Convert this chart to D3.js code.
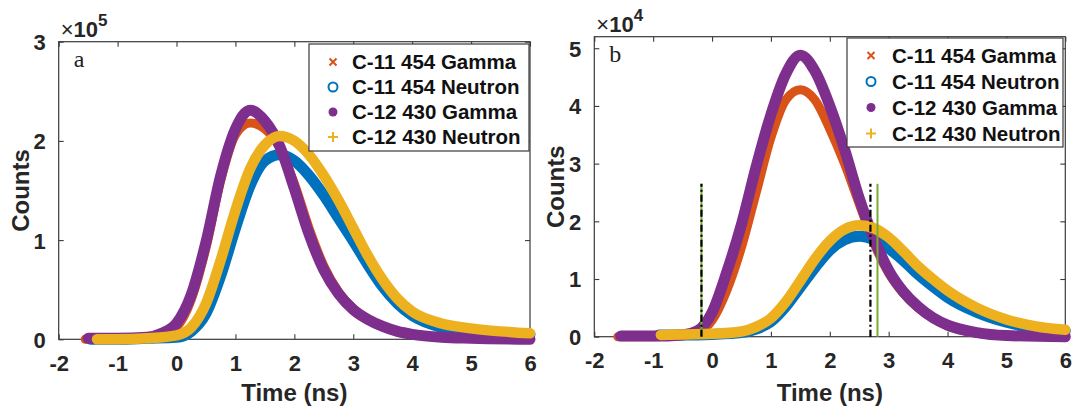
<!DOCTYPE html>
<html>
<head>
<meta charset="utf-8">
<script src="https://cdn.jsdelivr.net/npm/d3@7"></script>
<style>
  html, body { margin: 0; padding: 0; background: #fff; }
  svg { display: block; }
</style>
</head>
<body>
<svg id="chart" width="1073" height="407"></svg>
<script>
// ---------------- DATA ----------------
const seriesNames = ["C-11 454 Gamma", "C-11 454 Neutron", "C-12 430 Gamma", "C-12 430 Neutron"];
const xTicks = [-2, -1, 0, 1, 2, 3, 4, 5, 6];
const yTicksA = [0, 1, 2, 3];          // x10^5
const yTicksB = [0, 1, 2, 3, 4, 5];    // x10^4
const panelLetters = ["a", "b"];
const exponents = [5, 4];

// Panel a (counts / 1e5)
const tA_C11G = [-1.55,-1,-0.5,-0.25,0,0.25,0.5,0.75,1,1.25,1.5,1.75,2,2.25,2.5,2.75,3,3.25,3.5,3.75,4,4.5,5,6];
const vA_C11G = [0,0,0.01,0.04,0.12,0.4,0.92,1.6,2.06,2.18,2.12,1.93,1.57,1.12,0.74,0.48,0.31,0.2,0.13,0.08,0.05,0.02,0.01,0];
const tA_C11N = [-1.45,-1,-0.5,0,0.25,0.5,0.75,1,1.25,1.5,1.75,2,2.25,2.5,2.75,3,3.25,3.5,3.75,4,4.5,5,5.5,6];
const vA_C11N = [0,0,0.01,0.02,0.08,0.26,0.64,1.12,1.55,1.8,1.86,1.8,1.65,1.45,1.22,0.99,0.75,0.53,0.36,0.24,0.12,0.08,0.06,0.05];
const tA_C12G = [-1.5,-1,-0.5,-0.25,0,0.25,0.5,0.75,1,1.25,1.5,1.75,2,2.25,2.5,2.75,3,3.25,3.5,3.75,4,4.5,5,6];
const vA_C12G = [0.01,0.01,0.02,0.06,0.16,0.45,0.98,1.65,2.12,2.31,2.2,1.95,1.52,1.06,0.7,0.46,0.3,0.2,0.13,0.08,0.05,0.02,0.01,0];
const tA_C12N = [-1.35,-1,-0.5,0,0.25,0.5,0.75,1,1.25,1.5,1.75,2,2.25,2.5,2.75,3,3.25,3.5,3.75,4,4.5,5,5.5,6];
const vA_C12N = [0,0,0.01,0.04,0.12,0.36,0.8,1.3,1.72,1.96,2.05,2.0,1.86,1.65,1.4,1.12,0.84,0.6,0.41,0.28,0.16,0.11,0.08,0.06];

// Panel b (counts / 1e4)
const tB_C11G = [-1.6,-1,-0.5,-0.25,0,0.25,0.5,0.75,1,1.25,1.5,1.75,2,2.25,2.5,2.75,3,3.25,3.5,3.75,4,4.5,5,6];
const vB_C11G = [0,0,0.02,0.06,0.28,0.8,1.55,2.5,3.45,4.1,4.28,4.1,3.6,3.0,2.3,1.62,1.1,0.75,0.5,0.32,0.19,0.06,0.02,0];
const tB_C11N = [-0.9,-0.5,0,0.5,0.75,1,1.25,1.5,1.75,2,2.25,2.5,2.75,3,3.25,3.5,3.75,4,4.5,5,5.5,6];
const vB_C11N = [0.03,0.03,0.04,0.07,0.13,0.26,0.52,0.86,1.2,1.5,1.68,1.74,1.68,1.53,1.32,1.08,0.87,0.68,0.42,0.25,0.15,0.1];
const tB_C12G = [-1.55,-1,-0.5,-0.25,0,0.25,0.5,0.75,1,1.25,1.5,1.75,2,2.25,2.5,2.75,3,3.25,3.5,3.75,4,4.5,5,6];
const vB_C12G = [0.01,0.01,0.03,0.1,0.42,1.12,1.95,2.95,3.85,4.55,4.88,4.6,4.0,3.25,2.4,1.7,1.15,0.78,0.52,0.33,0.2,0.07,0.02,0];
const tB_C12N = [-0.87,-0.5,0,0.5,0.75,1,1.25,1.5,1.75,2,2.25,2.5,2.75,3,3.25,3.5,3.75,4,4.5,5,5.5,6];
const vB_C12N = [0.03,0.04,0.05,0.09,0.17,0.32,0.6,0.97,1.35,1.66,1.86,1.93,1.88,1.72,1.48,1.22,1.0,0.8,0.5,0.3,0.18,0.12];

// Vertical marker lines in panel b (time ns, top value x1e4)
const blackLinesB = [-0.18, 2.69];
const greenLinesB = [-0.18, 2.81];
const markerLineTopB = 2.65;

// ---------------- STYLE ----------------
const colors = ["#D95319", "#0072BD", "#7E2F8E", "#EDB120"];
const bandWidths = [9, 11, 11, 10.5];
const axisColor = "#3a3a3a";
const sans = "'Liberation Sans', Arial, Helvetica, sans-serif";
const serif = "'Liberation Serif', 'Times New Roman', serif";

const svg = d3.select("#chart");

const panels = [
  {
    left: 58.7, right: 530, top: 41.7, bottom: 339.3, yMax: 3, yTicks: yTicksA,
    series: [[tA_C11G, vA_C11G], [tA_C11N, vA_C11N], [tA_C12G, vA_C12G], [tA_C12N, vA_C12N]],
    legend: { x: 309, y: 44, w: 220, h: 107, mx: 333, tx: 352, row0: 62, dy: 25 },
    ylabX: 21, letter: panelLetters[0], exp: exponents[0]
  },
  {
    left: 594.3, right: 1065.3, top: 36.7, bottom: 336.7, yMax: 5.2, yTicks: yTicksB,
    series: [[tB_C11G, vB_C11G], [tB_C11N, vB_C11N], [tB_C12G, vB_C12G], [tB_C12N, vB_C12N]],
    legend: { x: 847, y: 38, w: 216, h: 109, mx: 871, tx: 892, row0: 55.5, dy: 26 },
    ylabX: 556, letter: panelLetters[1], exp: exponents[1],
    vlines: true
  }
];

panels.forEach(p => {
  const x = d3.scaleLinear().domain([-2, 6]).range([p.left, p.right]);
  const y = d3.scaleLinear().domain([0, p.yMax]).range([p.bottom, p.top]);
  const g = svg.append("g");

  // box
  g.append("rect")
    .attr("x", p.left).attr("y", p.top)
    .attr("width", p.right - p.left).attr("height", p.bottom - p.top)
    .attr("fill", "none").attr("stroke", axisColor).attr("stroke-width", 1.2);

  // axes (ticks inward)
  const tickLen = 5;
  const fmt = d => String(d);
  const xAxisB = d3.axisBottom(x).tickValues(xTicks).tickSize(-tickLen).tickPadding(tickLen + 11).tickFormat(fmt);
  const xAxisT = d3.axisTop(x).tickValues(xTicks).tickSize(-tickLen).tickFormat("");
  const yAxisL = d3.axisLeft(y).tickValues(p.yTicks).tickSize(-tickLen).tickPadding(tickLen + 8).tickFormat(fmt);
  const yAxisR = d3.axisRight(y).tickValues(p.yTicks).tickSize(-tickLen).tickFormat("");

  const styleAxis = sel => {
    sel.select(".domain").remove();
    sel.selectAll(".tick line").attr("stroke", axisColor).attr("stroke-width", 1.1);
    sel.selectAll(".tick text").attr("fill", "#262626")
      .style("font-family", sans).style("font-weight", "bold").style("font-size", "22px");
  };
  g.append("g").attr("transform", `translate(0,${p.bottom})`).call(xAxisB).call(styleAxis);
  g.append("g").attr("transform", `translate(0,${p.top})`).call(xAxisT).call(styleAxis);
  g.append("g").attr("transform", `translate(${p.left},0)`).call(yAxisL).call(styleAxis)
    .selectAll(".tick text").attr("dy", "0.36em");
  g.append("g").attr("transform", `translate(${p.right},0)`).call(yAxisR).call(styleAxis);

  // series as thick marker bands
  const line = d3.line().x(d => x(d[0])).y(d => y(d[1])).curve(d3.curveMonotoneX);
  p.series.forEach((s, i) => {
    const pts = s[0].map((t, k) => [t, s[1][k]]);
    g.append("path").datum(pts)
      .attr("d", line)
      .attr("fill", "none")
      .attr("stroke", colors[i])
      .attr("stroke-width", bandWidths[i])
      .attr("stroke-linecap", "round")
      .attr("stroke-linejoin", "round");
  });

  // vertical lines (panel b)
  if (p.vlines) {
    g.selectAll(".gl").data(greenLinesB).enter().append("line")
      .attr("x1", d => x(d)).attr("x2", d => x(d))
      .attr("y1", y(0)).attr("y2", y(markerLineTopB))
      .attr("stroke", "#77AC30").attr("stroke-width", 2);
    g.selectAll(".bl").data(blackLinesB).enter().append("line")
      .attr("x1", d => x(d)).attr("x2", d => x(d))
      .attr("y1", y(0)).attr("y2", y(markerLineTopB))
      .attr("stroke", "#000").attr("stroke-width", 2.2)
      .attr("stroke-dasharray", "7,3,2,3");
  }

  // panel letter
  g.append("text").attr("x", p.left + 15).attr("y", p.top + 25)
    .style("font-family", serif).style("font-size", "24px").attr("fill", "#222")
    .text(p.letter);

  // exponent label
  const ex = g.append("text").attr("x", p.left + 2).attr("y", p.top - 5)
    .style("font-family", sans).attr("fill", "#262626");
  ex.append("tspan").style("font-size", "22px").text("\u00D7");
  ex.append("tspan").style("font-size", "22px").style("font-weight", "bold").text("10");
  ex.append("tspan").style("font-size", "17px").style("font-weight", "bold").attr("dy", -11).text(p.exp);

  // axis labels
  g.append("text")
    .attr("x", (p.left + p.right) / 2).attr("y", 401)
    .attr("text-anchor", "middle")
    .style("font-family", sans).style("font-weight", "bold").style("font-size", "24px")
    .attr("fill", "#262626").text("Time (ns)");
  g.append("text")
    .attr("transform", `translate(${p.ylabX + 8},${(p.top + p.bottom) / 2}) rotate(-90)`)
    .attr("text-anchor", "middle")
    .style("font-family", sans).style("font-weight", "bold").style("font-size", "24px")
    .attr("fill", "#262626").text("Counts");

  // legend
  const L = p.legend;
  const lg = g.append("g");
  lg.append("rect").attr("x", L.x).attr("y", L.y).attr("width", L.w).attr("height", L.h)
    .attr("fill", "#fff").attr("stroke", axisColor).attr("stroke-width", 1.2);
  seriesNames.forEach((name, i) => {
    const cy = L.row0 + i * L.dy;
    const mk = lg.append("g").attr("transform", `translate(${L.mx},${cy})`);
    if (i === 0) {
      mk.append("path").attr("d", "M-3.5,-3.5L3.5,3.5M-3.5,3.5L3.5,-3.5")
        .attr("stroke", colors[0]).attr("stroke-width", 2);
    } else if (i === 1) {
      mk.append("circle").attr("r", 4.5).attr("fill", "none")
        .attr("stroke", colors[1]).attr("stroke-width", 2);
    } else if (i === 2) {
      mk.append("circle").attr("r", 4.5).attr("fill", colors[2]);
    } else {
      mk.append("path").attr("d", "M-5,0L5,0M0,-5L0,5")
        .attr("stroke", colors[3]).attr("stroke-width", 2);
    }
    lg.append("text").attr("x", L.tx).attr("y", cy).attr("dy", "0.36em")
      .style("font-family", sans).style("font-weight", "bold").style("font-size", "20.5px")
      .attr("fill", "#111").text(name);
  });
});
</script>
</body>
</html>
